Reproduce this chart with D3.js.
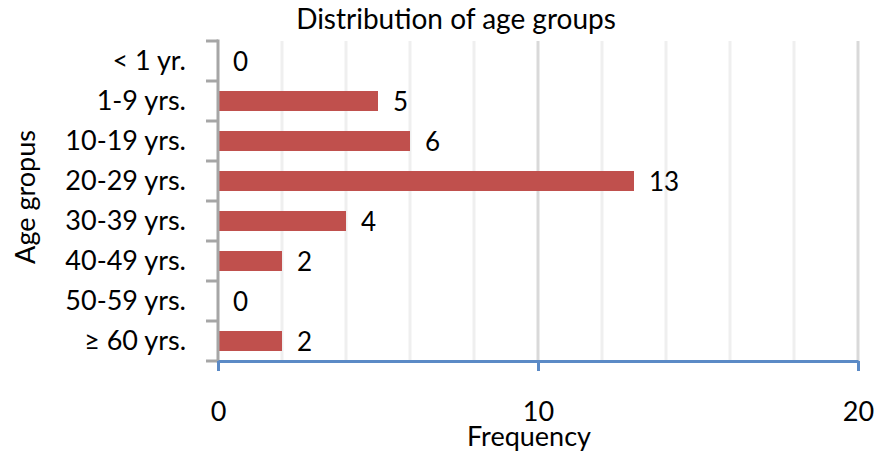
<!DOCTYPE html>
<html>
<head>
<meta charset="utf-8">
<script src="https://cdn.jsdelivr.net/npm/d3@7"></script>
<style>
  body { margin: 0; background: #fff; }
  svg text { font-family: Lato, "Open Sans", sans-serif; fill: #000; }
</style>
</head>
<body>
<svg id="chart" width="878" height="460"></svg>
<script>
// Age-group frequencies
const categories = ["< 1 yr.", "1-9 yrs.", "10-19 yrs.", "20-29 yrs.", "30-39 yrs.", "40-49 yrs.", "50-59 yrs.", "\u2265 60 yrs."];
const frequencies = [0, 5, 6, 13, 4, 2, 0, 2];
const xTickValues = [0, 10, 20];
const gridValues = [2, 4, 6, 8, 10, 12, 14, 16, 18, 20];

const svg = d3.select("#chart");
const plotLeft = 218, plotRight = 858, plotTop = 41, plotBottom = 361;

const x = d3.scaleLinear().domain([0, 20]).range([plotLeft, plotRight]);
const y = d3.scaleBand().domain(categories).range([plotTop, plotBottom]).paddingInner(0.5).paddingOuter(0.25);

// vertical gridlines
svg.append("g").selectAll("line").data(gridValues).join("line")
  .attr("x1", d => x(d)).attr("x2", d => x(d))
  .attr("y1", plotTop).attr("y2", plotBottom)
  .attr("stroke", d => d % 10 === 0 ? "#d9d9d9" : "#efefef")
  .attr("stroke-width", 3);

// bars
svg.append("g").selectAll("rect").data(categories).join("rect")
  .attr("x", x(0))
  .attr("y", d => y(d))
  .attr("width", (d, i) => x(frequencies[i]) - x(0))
  .attr("height", y.bandwidth())
  .attr("fill", "#c0504d");

// value labels
svg.append("g").selectAll("text").data(categories).join("text")
  .attr("x", (d, i) => x(frequencies[i]) + 15)
  .attr("y", d => y(d) + y.bandwidth() / 2 + 3)
  .attr("dominant-baseline", "middle")
  .attr("font-size", 26)
  .text((d, i) => frequencies[i]);

// left category axis with ticks between categories
const yAxis = svg.append("g").attr("transform", `translate(${plotLeft},0)`)
  .call(d3.axisLeft(y).tickSize(0).tickPadding(32));
yAxis.select(".domain").remove();
yAxis.selectAll("text").attr("font-size", 27).attr("dy", "0.35em")
  .style("font-family", "Lato, 'Open Sans', sans-serif");
const bounds = d3.range(categories.length + 1).map(i => plotTop + i * (plotBottom - plotTop) / categories.length);
svg.append("g").selectAll("line").data(bounds).join("line")
  .attr("x1", plotLeft - 12).attr("x2", plotLeft)
  .attr("y1", d => d).attr("y2", d => d)
  .attr("stroke", "#a6a6a6").attr("stroke-width", 3);
svg.append("line")
  .attr("x1", plotLeft).attr("x2", plotLeft).attr("y1", plotTop - 1.5).attr("y2", plotBottom + 1.5)
  .attr("stroke", "#a6a6a6").attr("stroke-width", 3);

// bottom value axis
const xAxis = svg.append("g").attr("transform", `translate(0,${plotBottom})`)
  .call(d3.axisBottom(x).tickValues(xTickValues).tickSize(10).tickPadding(31).tickSizeOuter(0));
xAxis.select(".domain").attr("stroke", "#5b8ac6").attr("stroke-width", 3);
xAxis.selectAll(".tick line").attr("stroke", "#5b8ac6").attr("stroke-width", 3);
xAxis.selectAll("text").attr("font-size", 27)
  .style("font-family", "Lato, 'Open Sans', sans-serif");

// titles
svg.append("text").attr("x", 456).attr("y", 29).attr("text-anchor", "middle")
  .attr("font-size", 28).text("Distribution of age groups");
svg.append("text").attr("x", 529).attr("y", 446).attr("text-anchor", "middle")
  .attr("font-size", 27).text("Frequency");
svg.append("text").attr("transform", "translate(35,197) rotate(-90)").attr("text-anchor", "middle")
  .attr("font-size", 27).text("Age gropus");
</script>
</body>
</html>
